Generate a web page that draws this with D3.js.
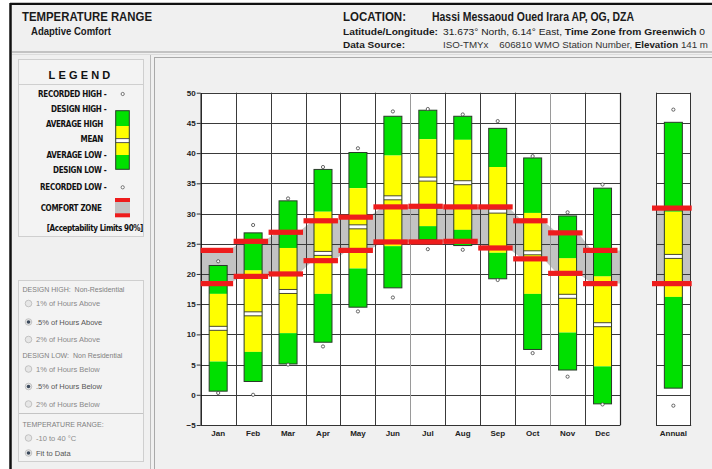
<!DOCTYPE html>
<html><head><meta charset="utf-8">
<script src="https://cdn.jsdelivr.net/npm/d3@7"></script>
<style>
html,body{margin:0;padding:0;background:#fff;}
svg{display:block;font-family:"Liberation Sans",Arial,sans-serif;}
.cond{font-family:"Liberation Sans Narrow","DejaVu Sans Condensed","Arial Narrow",sans-serif;}
.pre{white-space:pre;}
</style></head><body>
<svg id="c" width="712" height="469"></svg>
<script>
const months = ['Jan','Feb','Mar','Apr','May','Jun','Jul','Aug','Sep','Oct','Nov','Dec'];
const recordedHigh = [22.1, 28.1, 32.5, 37.7, 40.8, 46.9, 47.3, 46.4, 45.3, 39.5, 30.2, 34.8];
const designHigh   = [21.4, 26.8, 32.1, 37.3, 40.1, 46.1, 47.1, 46.1, 44.1, 39.2, 29.6, 34.2];
const averageHigh  = [16.7, 20.6, 24.3, 30.3, 34.2, 39.6, 42.3, 42.2, 37.7, 30.1, 22.6, 19.6];
const meanTemp     = [11.0, 13.4, 17.1, 23.4, 27.8, 32.6, 35.7, 35.1, 30.4, 23.5, 16.3, 11.6];
const averageLow   = [5.5, 7.1, 10.2, 16.7, 20.9, 24.6, 27.9, 27.3, 23.5, 16.7, 10.3, 4.7];
const designLow    = [0.6, 2.2, 5.1, 8.7, 14.5, 17.7, 25.7, 24.7, 19.2, 7.5, 4.1, -1.5];
const recordedLow  = [0.3, 0.0, 5.0, 8.0, 13.8, 16.1, 24.1, 24.0, 19.0, 6.9, 3.0, -1.6];
const comfortHigh  = [23.9, 25.4, 26.9, 28.8, 29.4, 31.1, 31.2, 31.1, 31.1, 28.8, 26.8, 23.9];
const comfortLow   = [18.4, 19.6, 20.0, 22.2, 23.9, 25.3, 25.3, 25.4, 24.3, 22.5, 20.1, 18.4];
const annualLabel = ['Annual'];
const annual = {recordedHigh:47.2, designHigh:45.1, averageHigh:30.3, mean:22.9, averageLow:16.2, designLow:1.1, recordedLow:-1.8, comfortHigh:30.9, comfortLow:18.4};
const yTicks = [-5,0,5,10,15,20,25,30,35,40,45,50];
const legendLabels = ['RECORDED HIGH -','DESIGN HIGH -','AVERAGE HIGH','MEAN','AVERAGE LOW -','DESIGN LOW -','RECORDED LOW -'];

const GREEN='#00e000', YELLOW='#ffff00', RED='#ee1c1c', GRAY='#c3c3c3', OUT='#2a3a2a';
const svg = d3.select('#c');

// background & frame
svg.append('rect').attr('x',0).attr('y',0).attr('width',712).attr('height',469).attr('fill','#fff');
svg.append('rect').attr('x',10).attr('y',3).attr('width',702).attr('height',466).attr('fill','#f0f0f0');
svg.append('line').attr('x1',10.5).attr('x2',10.5).attr('y1',3).attr('y2',469).attr('stroke','#111').attr('stroke-width',2.5);
svg.append('line').attr('x1',10).attr('x2',712).attr('y1',3.8).attr('y2',3.8).attr('stroke','#111').attr('stroke-width',2.2);
svg.append('line').attr('x1',12).attr('x2',712).attr('y1',52).attr('y2',52).attr('stroke','#b4b4b4').attr('stroke-width',1.5);
svg.append('line').attr('x1',12).attr('x2',712).attr('y1',54.5).attr('y2',54.5).attr('stroke','#dcdcdc').attr('stroke-width',1);

// header text
const hd = svg.append('g').attr('fill','#1a1a1a');
hd.append('text').attr('x',22).attr('y',20.5).attr('font-size',12).attr('font-weight','bold').attr('textLength',130).attr('lengthAdjust','spacingAndGlyphs').text('TEMPERATURE RANGE');
hd.append('text').attr('x',31).attr('y',34.5).attr('font-size',11).attr('font-weight','bold').attr('textLength',80).attr('lengthAdjust','spacingAndGlyphs').text('Adaptive Comfort');
hd.append('text').attr('x',343).attr('y',20.5).attr('font-size',12).attr('font-weight','bold').attr('textLength',63).attr('lengthAdjust','spacingAndGlyphs').text('LOCATION:');
hd.append('text').attr('x',432).attr('y',20.5).attr('font-size',12).attr('font-weight','bold').attr('textLength',202).attr('lengthAdjust','spacingAndGlyphs').text('Hassi Messaoud Oued Irara AP, OG, DZA');
hd.append('text').attr('x',343).attr('y',35).attr('font-size',9.5).attr('font-weight','bold').attr('textLength',95).attr('lengthAdjust','spacingAndGlyphs').text('Latitude/Longitude:');
hd.append('text').attr('x',343).attr('y',48).attr('font-size',9.5).attr('font-weight','bold').attr('textLength',62).attr('lengthAdjust','spacingAndGlyphs').text('Data Source:');
const t1 = hd.append('text').attr('x',443).attr('y',35).attr('font-size',9.5).attr('textLength',262).attr('lengthAdjust','spacingAndGlyphs');
t1.append('tspan').text('31.673° North, 6.14° East, ');
t1.append('tspan').attr('font-weight','bold').text('Time Zone from Greenwich');
t1.append('tspan').text(' 0');
const t2 = hd.append('text').attr('class','pre').attr('x',443).attr('y',48).attr('font-size',9.5).attr('fill','#333').attr('textLength',265).attr('lengthAdjust','spacingAndGlyphs');
t2.append('tspan').text('ISO-TMYx    606810 WMO Station Number, ');
t2.append('tspan').attr('font-weight','bold').attr('fill','#1a1a1a').text('Elevation');
t2.append('tspan').text(' 141 m');

// left panel
svg.append('line').attr('x1',150.5).attr('x2',150.5).attr('y1',55).attr('y2',469).attr('stroke','#bcbcbc');
svg.append('rect').attr('x',18.5).attr('y',59.5).attr('width',125).attr('height',177).attr('fill','#f3f3f3').attr('stroke','#cfcfcf');
svg.append('line').attr('x1',19).attr('x2',143).attr('y1',84.5).attr('y2',84.5).attr('stroke','#cfcfcf');
svg.append('text').attr('x',81).attr('y',79).attr('text-anchor','middle').attr('font-size',11).attr('font-weight','bold').attr('letter-spacing',3.2).attr('fill','#111').text('LEGEND');

const legY = [93.5,109,124,139,155,170,186.5];
const lg = svg.append('g').attr('class','cond').attr('font-size',8).attr('font-weight','bold').attr('fill','#111').attr('text-anchor','end');
legendLabels.forEach((l,i)=>{
  lg.append('text').attr('x',i===2||i===3?103:106.5).attr('y',legY[i]+3).attr('letter-spacing',-0.3).text(l);
});
lg.append('text').attr('x',101.5).attr('y',210.5).attr('letter-spacing',-0.3).text('COMFORT ZONE');
lg.append('text').attr('x',143).attr('y',231).attr('letter-spacing',-0.4).text('[Acceptability Limits 90%]');
// legend bar
const lb = svg.append('g');
lb.append('rect').attr('x',115.7).attr('y',110.7).attr('width',13.6).attr('height',15.3).attr('fill',GREEN);
lb.append('rect').attr('x',115.7).attr('y',126).attr('width',13.6).attr('height',29).attr('fill',YELLOW);
lb.append('rect').attr('x',115.7).attr('y',155).attr('width',13.6).attr('height',14.3).attr('fill',GREEN);
lb.append('rect').attr('x',115.7).attr('y',138.6).attr('width',13.6).attr('height',4).attr('fill','#fff');
lb.append('line').attr('x1',115.7).attr('x2',129.3).attr('y1',138.6).attr('y2',138.6).attr('stroke','#555');
lb.append('line').attr('x1',115.7).attr('x2',129.3).attr('y1',142.6).attr('y2',142.6).attr('stroke','#555');
lb.append('rect').attr('x',115.7).attr('y',110.7).attr('width',13.6).attr('height',58.6).attr('fill','none').attr('stroke',OUT).attr('stroke-width',1);
lb.append('circle').attr('cx',122.7).attr('cy',94).attr('r',1.6).attr('fill','#fff').attr('stroke','#555').attr('stroke-width',0.8);
lb.append('circle').attr('cx',122.7).attr('cy',187.3).attr('r',1.6).attr('fill','#fff').attr('stroke','#555').attr('stroke-width',0.8);
lb.append('rect').attr('x',115).attr('y',201).attr('width',15).attr('height',13).attr('fill',GRAY);
lb.append('rect').attr('x',115).attr('y',198).attr('width',15).attr('height',4).attr('fill',RED);
lb.append('rect').attr('x',115).attr('y',213.3).attr('width',15).attr('height',4).attr('fill',RED);

// lower option box
svg.append('rect').attr('x',18.5).attr('y',280.5).attr('width',125).attr('height',181).attr('fill','#f3f3f3').attr('stroke','#cfcfcf');
svg.append('line').attr('x1',19).attr('x2',143).attr('y1',413.5).attr('y2',413.5).attr('stroke','#c4c4c4');
const opts = [
  {t:'DESIGN HIGH:  Non-Residential', y:289, head:true},
  {t:'1% of Hours Above', y:303.5},
  {t:'.5% of Hours Above', y:322, sel:true},
  {t:'2% of Hours Above', y:339.5},
  {t:'DESIGN LOW:  Non Residential', y:355, head:true},
  {t:'1% of Hours Below', y:369},
  {t:'.5% of Hours Below', y:386.5, sel:true},
  {t:'2% of Hours Below', y:404},
  {t:'TEMPERATURE RANGE:', y:424, head:true},
  {t:'-10 to 40 °C', y:438},
  {t:'Fit to Data', y:453, sel:true}
];
const og = svg.append('g').attr('font-size',7.5).attr('fill','#7a7a7a');
opts.forEach(o=>{
  if(o.head){
    og.append('text').attr('class','pre').attr('x',22.5).attr('y',o.y+2.5).attr('font-size',7).attr('fill','#808080').text(o.t);
  } else {
    og.append('circle').attr('cx',28.5).attr('cy',o.y).attr('r',3.3).attr('fill','#e6e6e6').attr('stroke','#b8b8b8').attr('stroke-width',0.8);
    if(o.sel) og.append('circle').attr('cx',28.5).attr('cy',o.y).attr('r',1.8).attr('fill','#3c4a5c');
    og.append('text').attr('x',36).attr('y',o.y+2.6).attr('fill',o.sel?'#555':'#8a8a8a').text(o.t);
  }
});

// chart panel
svg.append('rect').attr('x',154.5).attr('y',57.5).attr('width',560).attr('height',415).attr('fill','#f0f0f0').attr('stroke','#a9a9a9');

const y = d3.scaleLinear().domain([-5,50]).range([425,92.7]);
const x = d3.scaleBand().domain(months).range([200.7,620]).paddingInner(0).paddingOuter(0);
const xa = d3.scaleBand().domain(annualLabel).range([656,690.7]);
const bw = x.bandwidth();

function panel(left, right){
  svg.append('rect').attr('x',left).attr('y',y(50)).attr('width',right-left).attr('height',y(-5)-y(50)).attr('fill','#fff');
}
panel(200.7, 620);
panel(656, 690.7);

const defs = svg.append('defs');
defs.append('clipPath').attr('id','cm').append('rect').attr('x',200.7).attr('y',y(50)).attr('width',620-200.7).attr('height',y(-5)-y(50));

// comfort gray area (monthly)
const pts = [];
months.forEach((m,i)=>{
  const c = x(m)+bw/2;
  pts.push({x: i===0 ? 200.7 : c-0.3*bw, hi: comfortHigh[i], lo: comfortLow[i]});
  pts.push({x: i===11 ? 620 : c+0.3*bw, hi: comfortHigh[i], lo: comfortLow[i]});
});
const area = d3.area().x(d=>d.x).y0(d=>y(d.lo)).y1(d=>y(d.hi));
svg.append('path').datum(pts).attr('d',area).attr('fill',GRAY).attr('clip-path','url(#cm)');
svg.append('rect').attr('x',656).attr('y',y(annual.comfortHigh)).attr('width',690.7-656).attr('height',y(annual.comfortLow)-y(annual.comfortHigh)).attr('fill',GRAY);

// gridlines
const grid = svg.append('g');
yTicks.forEach(t=>{
  grid.append('line').attr('x1',200.7).attr('x2',620).attr('y1',Math.round(y(t))+0.5).attr('y2',Math.round(y(t))+0.5).attr('stroke','#3a3a3a').attr('stroke-width',1);
  grid.append('line').attr('x1',656).attr('x2',690.7).attr('y1',Math.round(y(t))+0.5).attr('y2',Math.round(y(t))+0.5).attr('stroke','#3a3a3a').attr('stroke-width',1);
});
const vlines = months.slice(1).map(m=>x(m));
const lightIdx = [5,9];
vlines.forEach((v,i)=>{
  grid.append('line').attr('x1',Math.round(v)+0.5).attr('x2',Math.round(v)+0.5).attr('y1',y(50)).attr('y2',y(-5))
    .attr('stroke', lightIdx.includes(i)?'#9a9a9a':'#3a3a3a').attr('stroke-width',1);
});
grid.append('line').attr('x1',620.5).attr('x2',620.5).attr('y1',y(50)).attr('y2',y(-5)).attr('stroke','#222').attr('stroke-width',1.2);
grid.append('line').attr('x1',656.5).attr('x2',656.5).attr('y1',y(50)).attr('y2',y(-5)).attr('stroke','#333').attr('stroke-width',1);
grid.append('line').attr('x1',690.5).attr('x2',690.5).attr('y1',y(50)).attr('y2',y(-5)).attr('stroke','#333').attr('stroke-width',1);

// axes
const yAxis = svg.append('g').attr('transform','translate(200.7,0)')
  .call(d3.axisLeft(y).tickValues(yTicks).tickSize(4).tickSizeOuter(0).tickFormat(d3.format('d')));
yAxis.select('.domain').attr('stroke','#111').attr('stroke-width',1.4);
yAxis.selectAll('.tick line').attr('stroke','#333');
yAxis.selectAll('text').attr('font-size',8).attr('font-weight','bold').attr('fill','#222').attr('font-family','"Liberation Sans",Arial,sans-serif').attr('x',-5);

const xAxis = svg.append('g').attr('transform','translate(0,425)')
  .call(d3.axisBottom(x).tickSize(0).tickPadding(5));
xAxis.select('.domain').attr('stroke','#333');
xAxis.selectAll('text').attr('font-size',8).attr('font-weight','bold').attr('fill','#222').attr('font-family','"Liberation Sans",Arial,sans-serif');
const xAxisA = svg.append('g').attr('transform','translate(0,425)')
  .call(d3.axisBottom(xa).tickSize(0).tickPadding(5));
xAxisA.select('.domain').attr('stroke','#333');
xAxisA.selectAll('text').attr('font-size',8).attr('font-weight','bold').attr('fill','#222').attr('font-family','"Liberation Sans",Arial,sans-serif');

// bars
function drawBar(cx, d){
  const w = 18, g = svg.append('g');
  const x0 = cx - w/2;
  g.append('rect').attr('x',x0).attr('y',y(d.designHigh)).attr('width',w).attr('height',y(d.averageHigh)-y(d.designHigh)).attr('fill',GREEN);
  g.append('rect').attr('x',x0).attr('y',y(d.averageHigh)).attr('width',w).attr('height',y(d.averageLow)-y(d.averageHigh)).attr('fill',YELLOW);
  g.append('rect').attr('x',x0).attr('y',y(d.averageLow)).attr('width',w).attr('height',y(d.designLow)-y(d.averageLow)).attr('fill',GREEN);
  const ym = y(d.mean);
  g.append('rect').attr('x',x0).attr('y',ym-2).attr('width',w).attr('height',4).attr('fill','#fff');
  g.append('line').attr('x1',x0).attr('x2',x0+w).attr('y1',ym-2).attr('y2',ym-2).attr('stroke','#4a4a30').attr('stroke-width',1);
  g.append('line').attr('x1',x0).attr('x2',x0+w).attr('y1',ym+2).attr('y2',ym+2).attr('stroke','#4a4a30').attr('stroke-width',1);
  g.append('rect').attr('x',x0).attr('y',y(d.designHigh)).attr('width',w).attr('height',y(d.designLow)-y(d.designHigh)).attr('fill','none').attr('stroke',OUT).attr('stroke-width',1);
}
months.forEach((m,i)=>{
  drawBar(x(m)+bw/2, {designHigh:designHigh[i], averageHigh:averageHigh[i], mean:meanTemp[i], averageLow:averageLow[i], designLow:designLow[i]});
});
drawBar(xa('Annual')+xa.bandwidth()/2, annual);

// red comfort limits
const reds = svg.append('g').attr('clip-path','url(#cm)');
months.forEach((m,i)=>{
  [comfortHigh[i], comfortLow[i]].forEach(v=>{
    reds.append('rect').attr('x',x(m)-2).attr('y',y(v)-2.6).attr('width',bw-0.5).attr('height',5.2).attr('fill',RED);
  });
});
const redsA = svg.append('g');
[annual.comfortHigh, annual.comfortLow].forEach(v=>{
  redsA.append('rect').attr('x',652).attr('y',y(v)-2.6).attr('width',690.7-652+1).attr('height',5.2).attr('fill',RED);
});

// recorded dots
const dots = svg.append('g');
months.forEach((m,i)=>{
  const cx = x(m)+bw/2;
  [recordedHigh[i], recordedLow[i]].forEach(v=>{
    dots.append('circle').attr('cx',cx).attr('cy',y(v)).attr('r',1.6).attr('fill','#fff').attr('stroke','#444').attr('stroke-width',0.8);
  });
});
[annual.recordedHigh, annual.recordedLow].forEach(v=>{
  dots.append('circle').attr('cx',xa('Annual')+xa.bandwidth()/2).attr('cy',y(v)).attr('r',1.6).attr('fill','#fff').attr('stroke','#444').attr('stroke-width',0.8);
});
</script>
</body></html>
